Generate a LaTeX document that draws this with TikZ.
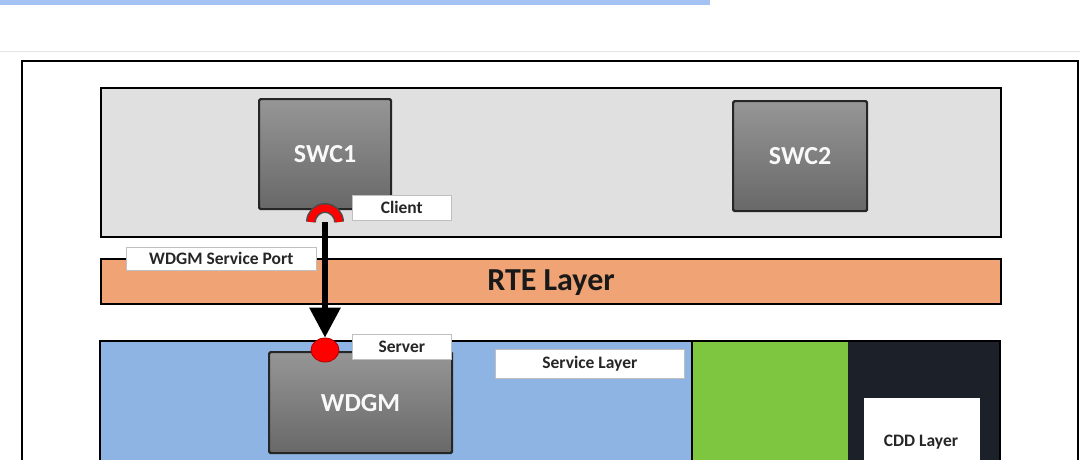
\documentclass[tikz,border=0pt]{standalone}
\usepackage{fontspec}
\setmainfont{Carlito}
\usetikzlibrary{shapes.geometric,arrows.meta}
\begin{document}
\begin{tikzpicture}[x=1pt,y=-1pt,
  swc/.style={draw=black!85,line width=2.2pt,rounded corners=1.5pt,top color={rgb,255:red,150;green,150;blue,150},bottom color={rgb,255:red,104;green,104;blue,104},text=white!95!gray,font=\bfseries\fontsize{26}{26}\selectfont,inner sep=0pt},
  lbl/.style={draw=gray!50,line width=0.6pt,fill=white,font=\bfseries\fontsize{17.5}{17.5}\selectfont,text=black!85,inner sep=0pt},
  layer/.style={draw=black,line width=1.6pt}]
\useasboundingbox (0,0) rectangle (1080,459);
\clip (0,0) rectangle (1080,459);
\fill[white] (0,0) rectangle (1080,459);
% top strip
\fill[fill={rgb,255:red,164;green,194;blue,244}] (0,0) rectangle (710,5);
\draw[gray!20,line width=1pt] (0,51) -- (1080,51);
% outer frame
\draw[black,line width=2.6pt] (22,61) rectangle (1078,470);
% application layer
\node[layer,fill={rgb,255:red,224;green,224;blue,224},minimum width=900pt,minimum height=149pt,anchor=north west] (app) at (100,87) {};
\node[swc,minimum width=132pt,minimum height=110pt,anchor=north west] (swc1) at (258,98) {SWC1};
\node[swc,minimum width=134pt,minimum height=110pt,anchor=north west] (swc2) at (732,100) {SWC2};
\node[lbl,minimum width=99pt,minimum height=25pt,anchor=north west] (client) at (352,195) {Client};
% RTE
\node[layer,fill={rgb,255:red,240;green,163;blue,117},minimum width=900pt,minimum height=45pt,anchor=north west] (rte) at (100,258) {};
\node[font=\bfseries\fontsize{32}{32}\selectfont,text=black!90] (rtet) at (551,283) {RTE Layer};
\node[lbl,minimum width=190pt,minimum height=23pt,anchor=north west] (port) at (126,247) {WDGM Service Port};
% bottom layers
\fill[fill={rgb,255:red,141;green,180;blue,226}] (100,341) rectangle (692,470);
\fill[fill={rgb,255:red,126;green,198;blue,64}] (692,341) rectangle (848,470);
\fill[fill={rgb,255:red,28;green,33;blue,41}] (848,341) rectangle (1000,470);
\draw[black,line width=1.6pt] (100,470) -- (100,341) -- (1000,341) -- (1000,470);
\draw[black,line width=1.6pt] (692,341) -- (692,470);
\node[swc,minimum width=183pt,minimum height=101pt,anchor=north west] (wdgm) at (268,351) {WDGM};
\node[lbl,minimum width=99pt,minimum height=25pt,anchor=north west] (server) at (352,334) {Server};
\node[lbl,minimum width=189pt,minimum height=29pt,anchor=north west] (svclayer) at (495,349) {Service Layer};
\node[fill=white,minimum width=116pt,minimum height=80pt,anchor=north west,inner sep=0pt] (cdd) at (864,398) {};
\node[font=\bfseries\fontsize{17.5}{17.5}\selectfont,text=black!85] (cddt) at (921,442) {CDD Layer};
% ports
\coordinate (cp) at (325,222);
\draw[black!70,line width=10pt] ([xshift=-14pt]cp) arc[start angle=180,end angle=0,radius=14pt];
\draw[red,line width=7pt] ([xshift=-14pt]cp) arc[start angle=180,end angle=0,radius=14pt];
\node[ellipse,fill=red,draw=red!70!black,line width=0.8pt,minimum width=28pt,minimum height=24pt,inner sep=0pt] (sp) at (325,350) {};
% connector
\draw[black,line width=6pt,-{Triangle[width=30pt,length=30pt]}] (cp) -- (sp.north);
\end{tikzpicture}
\end{document}
